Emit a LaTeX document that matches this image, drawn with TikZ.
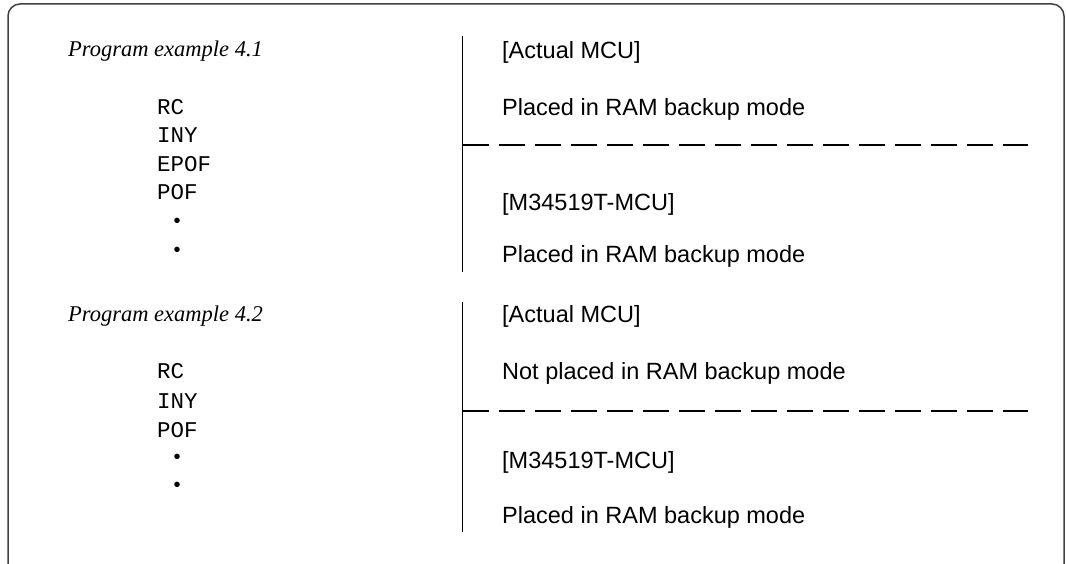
\documentclass[tikz,border=0pt]{standalone}
\usepackage{fontspec}
\setmainfont{Liberation Serif}
\newfontfamily\arialf{Liberation Sans}
\newfontfamily\courf{Liberation Mono}
\begin{document}
\begin{tikzpicture}[x=1pt,y=-1pt,
  txt/.style={anchor=base west,inner sep=0pt,font=\arialf\fontsize{23.5}{28}\selectfont},
  code/.style={anchor=base west,inner sep=0pt,font=\courf\fontsize{22.5}{28}\selectfont},
  title/.style={anchor=base west,inner sep=0pt,font=\itshape\fontsize{22.5}{28}\selectfont},
  dot/.style={anchor=center,inner sep=0pt,font=\arialf\fontsize{20}{24}\selectfont},
  sep/.style={line width=1.3pt,black},
  dsep/.style={line width=1.3pt,black,dash pattern=on 26pt off 10pt},
  frame/.style={line width=1.5pt,draw={rgb,255:red,64;green,64;blue,64},rounded corners=12pt}]
\useasboundingbox (0,0) rectangle (1066,564);
\draw[frame] (8,4) rectangle (1064,576);
% upper block
\node[title] (t1) at (68,57) {Program example 4.1};
\node[code] (c11) at (157,115) {RC};
\node[code] (c12) at (157,143) {INY};
\node[code] (c13) at (157,172) {EPOF};
\node[code] (c14) at (157,200) {POF};
\node[dot] (d11) at (177,223) {•};
\node[dot] (d12) at (177,252) {•};
\coordinate (v1t) at (462.5,36);
\coordinate (v1b) at (462.5,272);
\coordinate (h1a) at (462.5,145);
\coordinate (h1b) at (1028,145);
\draw[sep] (v1t) -- (v1b);
\draw[dsep] (h1a) -- (h1b);
\node[txt] (r11) at (502,59) {[Actual MCU]};
\node[txt] (r12) at (502,116) {Placed in RAM backup mode};
\node[txt] (r13) at (502,211) {[M34519T-MCU]};
\node[txt] (r14) at (502,262) {Placed in RAM backup mode};
% lower block
\node[title] (t2) at (68,321) {Program example 4.2};
\node[code] (c21) at (157,378) {RC};
\node[code] (c22) at (157,408) {INY};
\node[code] (c23) at (157,437) {POF};
\node[dot] (d21) at (177,459) {•};
\node[dot] (d22) at (177,487) {•};
\coordinate (v2t) at (462.5,302);
\coordinate (v2b) at (462.5,532);
\coordinate (h2a) at (462.5,411);
\coordinate (h2b) at (1028,411);
\draw[sep] (v2t) -- (v2b);
\draw[dsep] (h2a) -- (h2b);
\node[txt] (r21) at (502,323) {[Actual MCU]};
\node[txt] (r22) at (502,379) {Not placed in RAM backup mode};
\node[txt] (r23) at (502,468) {[M34519T-MCU]};
\node[txt] (r24) at (502,523) {Placed in RAM backup mode};
\end{tikzpicture}
\end{document}
